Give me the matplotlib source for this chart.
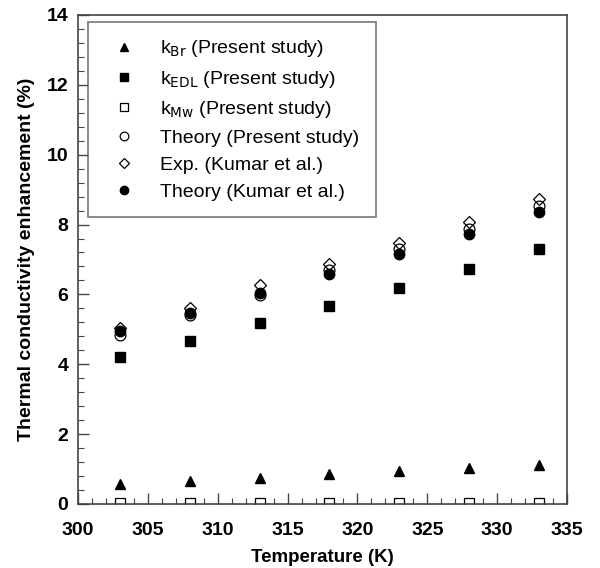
import numpy as np
import matplotlib
matplotlib.use("Agg")
import matplotlib.pyplot as plt
from matplotlib.ticker import MultipleLocator

plt.rcParams['font.family'] = ['Liberation Sans', 'DejaVu Sans']

# data
temperature = [303, 308, 313, 318, 323, 328, 333]
k_br = [0.56, 0.66, 0.75, 0.85, 0.94, 1.04, 1.12]
k_edl = [4.20, 4.67, 5.17, 5.66, 6.18, 6.74, 7.30]
k_mw = [0.04, 0.04, 0.04, 0.04, 0.04, 0.04, 0.04]
theory_present = [4.84, 5.41, 5.98, 6.69, 7.29, 7.88, 8.54]
exp_kumar = [5.03, 5.60, 6.27, 6.87, 7.47, 8.08, 8.72]
theory_kumar = [4.95, 5.47, 6.03, 6.58, 7.15, 7.72, 8.37]

fig = plt.figure(figsize=(6.0, 5.68), dpi=100)
ax = fig.add_axes([0.13, 0.1127, 0.815, 0.861])

ax.plot(temperature, k_br, '^', color='k', ms=7.5, ls='none', label=r'k$_{\mathrm{Br}}$ (Present study)')
ax.plot(temperature, k_edl, 's', color='k', ms=7, ls='none', label=r'k$_{\mathrm{EDL}}$ (Present study)')
ax.plot(temperature, k_mw, 's', mfc='white', mec='k', mew=0.9, ms=7, ls='none', label=r'k$_{\mathrm{Mw}}$ (Present study)')
ax.plot(temperature, theory_present, 'o', mfc='none', mec='k', mew=0.9, ms=7.8, ls='none', label='Theory (Present study)')
ax.plot(temperature, exp_kumar, 'D', mfc='none', mec='k', mew=0.9, ms=6.5, ls='none', label='Exp. (Kumar et al.)')
ax.plot(temperature, theory_kumar, 'o', color='k', ms=7.5, ls='none', label='Theory (Kumar et al.)')

ax.set_xlim(300, 335)
ax.set_ylim(0, 14)
ax.xaxis.set_major_locator(MultipleLocator(5))
ax.xaxis.set_minor_locator(MultipleLocator(1))
ax.yaxis.set_major_locator(MultipleLocator(2))
ax.yaxis.set_minor_locator(MultipleLocator(0.4))
ax.tick_params(which='both', direction='in', top=False, right=False, color='#444444')
ax.tick_params(which='major', length=8, width=1, labelsize=14)
ax.tick_params(which='minor', length=4, width=0.8)
ax.tick_params(axis='x', which='major', pad=13)
ax.tick_params(axis='y', which='major', pad=7)
for lbl in ax.get_xticklabels() + ax.get_yticklabels():
    lbl.set_fontweight('bold')
for sp in ax.spines.values():
    sp.set_color('#444444')
    sp.set_linewidth(1.2)

ax.set_xlabel('Temperature (K)', fontsize=13.5, fontweight='bold', labelpad=7)
ax.set_ylabel('Thermal conductivity enhancement (%)', fontsize=14, fontweight='bold', labelpad=8)

leg = ax.legend(loc='upper left', bbox_to_anchor=(0.0204, 0.986), borderaxespad=0, fontsize=14,
                frameon=True, fancybox=False, edgecolor='#555555', markerscale=0.8,
                handlelength=2.0, handletextpad=0.85, labelspacing=0.48, borderpad=0.85)
leg.get_frame().set_linewidth(1.2)

fig.savefig('out.png', dpi=100, facecolor='white')
